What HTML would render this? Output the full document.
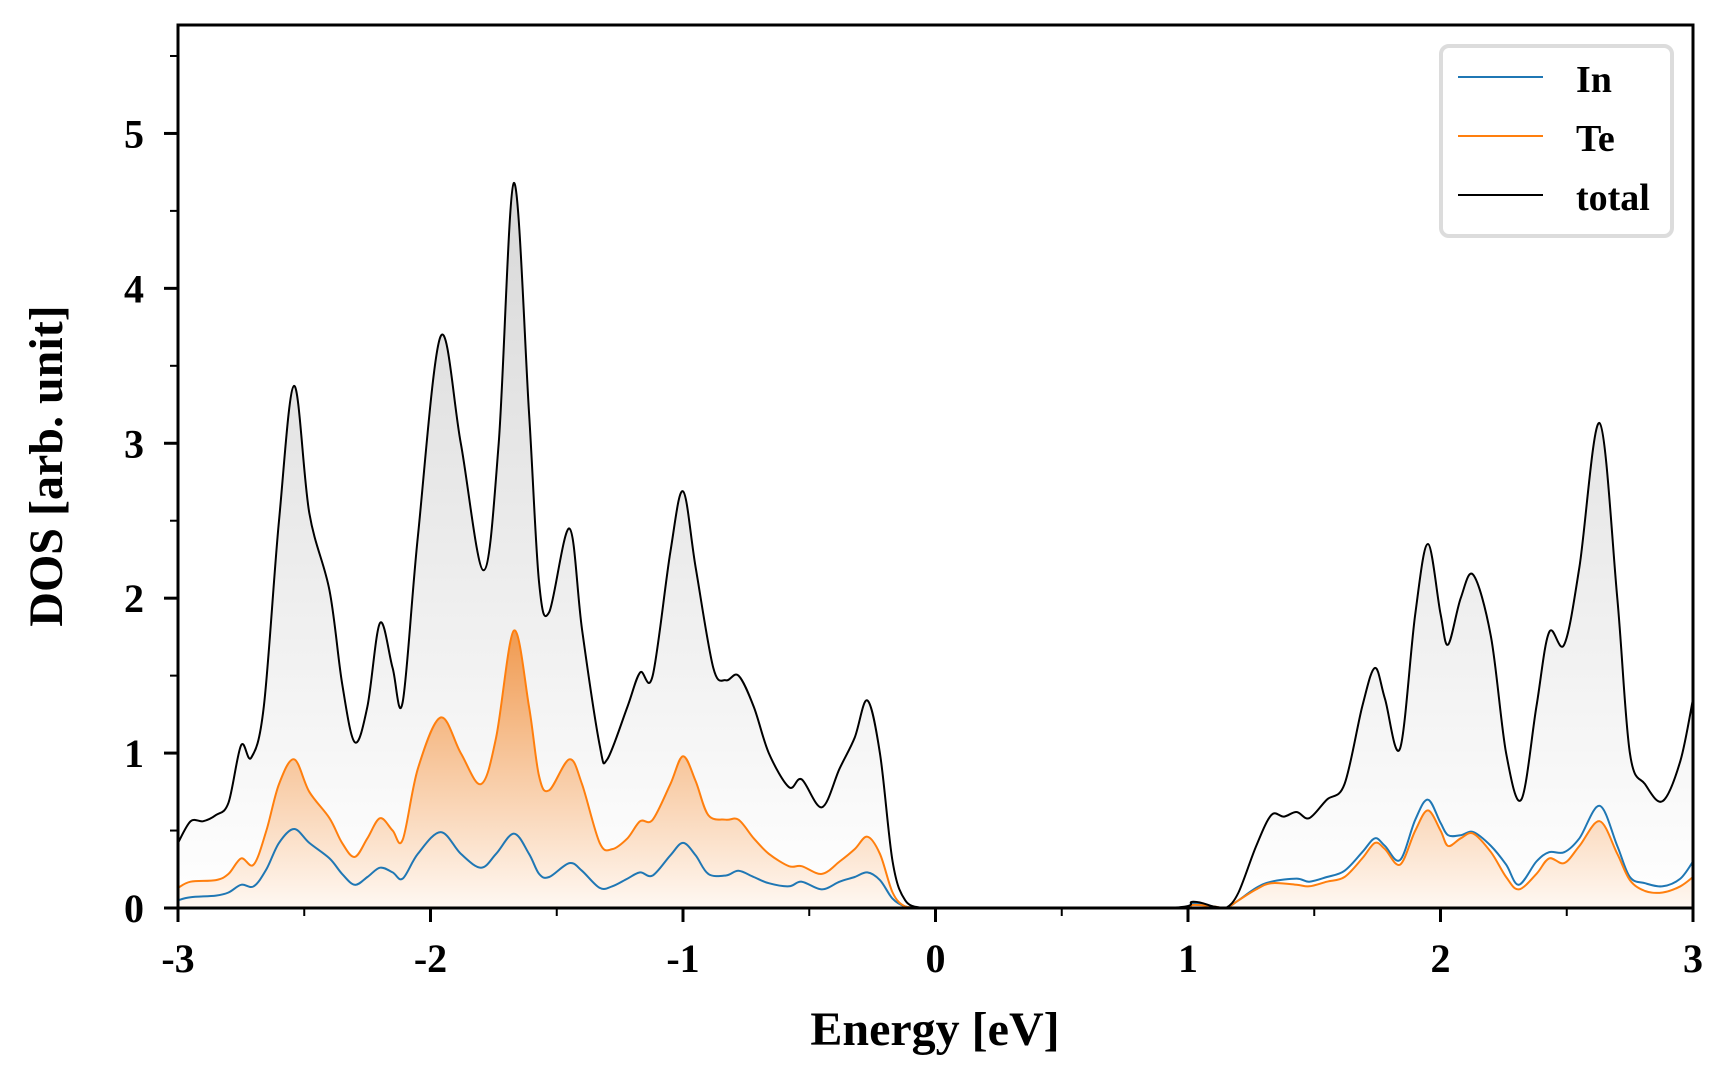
<!DOCTYPE html>
<html><head><meta charset="utf-8"><style>
html,body{margin:0;padding:0;background:#fff}
svg{display:block}
text{font-family:"Liberation Serif",serif;font-weight:bold;fill:#000}
</style></head><body>
<svg id="chart" width="1728" height="1080" viewBox="0 0 1728 1080" xmlns="http://www.w3.org/2000/svg">
<defs>
<linearGradient id="gGray" gradientUnits="userSpaceOnUse" x1="0" y1="180" x2="0" y2="908">
<stop offset="0" stop-color="#d8d8d8"/><stop offset="1" stop-color="#ffffff"/></linearGradient>
<linearGradient id="gOrange" gradientUnits="userSpaceOnUse" x1="0" y1="630" x2="0" y2="908">
<stop offset="0" stop-color="#f09a50"/><stop offset="1" stop-color="#fff8f2"/></linearGradient>
<clipPath id="clip"><rect x="178" y="25" width="1515" height="883"/></clipPath>
</defs>
<g id="plot" clip-path="url(#clip)"></g>
<g id="axes"></g>
<g id="legend">
<rect x="1441" y="46" width="231" height="190" rx="8" fill="#fff" stroke="#dcdcdc" stroke-width="4"/>
<line x1="1458" y1="77" x2="1543" y2="77" stroke="#1f77b4" stroke-width="2"/>
<text x="1576" y="92" font-size="38">In</text>
<line x1="1458" y1="136" x2="1543" y2="136" stroke="#ff7f0e" stroke-width="2"/>
<text x="1576" y="151" font-size="38">Te</text>
<line x1="1458" y1="195" x2="1543" y2="195" stroke="#000" stroke-width="2"/>
<text x="1576" y="210" font-size="38">total</text>
</g>
<text x="935" y="1045" font-size="48" text-anchor="middle">Energy [eV]</text>
<text transform="translate(62,466) rotate(-90)" font-size="48" text-anchor="middle">DOS [arb. unit]</text>
</svg>
<script>
const totalE = [-3.00,-2.95,-2.90,-2.85,-2.80,-2.75,-2.71,-2.66,-2.60,-2.54,-2.48,-2.40,-2.35,-2.30,-2.25,-2.20,-2.15,-2.11,-2.05,-1.96,-1.88,-1.79,-1.73,-1.67,-1.61,-1.57,-1.53,-1.45,-1.40,-1.33,-1.30,-1.22,-1.17,-1.12,-1.05,-1.00,-0.95,-0.88,-0.83,-0.78,-0.72,-0.66,-0.58,-0.53,-0.45,-0.38,-0.32,-0.27,-0.22,-0.17,-0.12,-0.05,0.00,0.90,1.02,1.10,1.15,1.20,1.27,1.33,1.38,1.43,1.48,1.55,1.62,1.69,1.74,1.78,1.84,1.90,1.95,2.00,2.03,2.08,2.13,2.20,2.26,2.32,2.38,2.43,2.49,2.55,2.63,2.70,2.75,2.81,2.88,2.95,3.00];
const totalDOS = [0.42,0.56,0.56,0.60,0.68,1.05,0.97,1.30,2.50,3.37,2.55,2.05,1.45,1.07,1.30,1.84,1.55,1.33,2.40,3.69,3.00,2.18,3.00,4.68,3.20,2.10,1.91,2.45,1.80,1.05,0.96,1.30,1.52,1.50,2.30,2.69,2.20,1.55,1.47,1.50,1.30,1.00,0.78,0.83,0.65,0.90,1.10,1.34,1.00,0.30,0.05,0.00,0.00,0.00,0.04,0.01,0.00,0.10,0.40,0.60,0.59,0.62,0.58,0.70,0.80,1.30,1.55,1.35,1.03,1.90,2.35,1.90,1.70,2.00,2.15,1.75,1.00,0.70,1.30,1.78,1.70,2.20,3.13,2.00,1.00,0.80,0.69,0.95,1.35];
const partE = [-3.00,-2.95,-2.85,-2.80,-2.75,-2.70,-2.65,-2.60,-2.54,-2.48,-2.40,-2.35,-2.30,-2.25,-2.20,-2.15,-2.11,-2.05,-1.96,-1.88,-1.80,-1.74,-1.67,-1.61,-1.57,-1.53,-1.45,-1.40,-1.33,-1.28,-1.22,-1.17,-1.12,-1.05,-1.00,-0.95,-0.90,-0.83,-0.78,-0.72,-0.66,-0.58,-0.53,-0.45,-0.38,-0.32,-0.27,-0.22,-0.17,-0.12,-0.05,0.00,0.90,1.02,1.10,1.15,1.20,1.27,1.33,1.43,1.48,1.55,1.62,1.69,1.74,1.78,1.84,1.90,1.95,2.00,2.03,2.08,2.13,2.20,2.26,2.31,2.38,2.43,2.49,2.55,2.63,2.70,2.75,2.81,2.88,2.95,3.00];
const teDOS = [0.13,0.17,0.18,0.22,0.32,0.28,0.50,0.80,0.96,0.75,0.58,0.42,0.33,0.45,0.58,0.50,0.44,0.90,1.23,1.00,0.80,1.10,1.79,1.30,0.85,0.76,0.96,0.80,0.42,0.38,0.45,0.56,0.57,0.80,0.98,0.82,0.60,0.57,0.57,0.45,0.35,0.27,0.27,0.22,0.30,0.38,0.46,0.35,0.10,0.01,0.00,0.00,0.00,0.02,0.01,0.00,0.05,0.12,0.16,0.15,0.14,0.17,0.20,0.32,0.42,0.38,0.28,0.50,0.63,0.50,0.40,0.45,0.48,0.36,0.20,0.12,0.22,0.32,0.29,0.40,0.56,0.35,0.18,0.11,0.10,0.14,0.20];
const inDOS = [0.05,0.07,0.08,0.10,0.15,0.14,0.25,0.42,0.51,0.42,0.32,0.22,0.15,0.20,0.26,0.23,0.19,0.35,0.49,0.35,0.26,0.35,0.48,0.35,0.22,0.20,0.29,0.24,0.13,0.14,0.19,0.23,0.21,0.34,0.42,0.34,0.22,0.21,0.24,0.20,0.16,0.14,0.17,0.12,0.17,0.20,0.23,0.18,0.06,0.01,0.00,0.00,0.00,0.03,0.01,0.00,0.05,0.13,0.17,0.19,0.17,0.20,0.24,0.36,0.45,0.40,0.31,0.57,0.70,0.55,0.47,0.47,0.49,0.40,0.28,0.15,0.30,0.36,0.36,0.45,0.66,0.40,0.20,0.16,0.14,0.19,0.30];
const xTicks = [-3,-2,-1,0,1,2,3];
const xTickLabels = ["-3","-2","-1","0","1","2","3"];
const yTicks = [0,1,2,3,4,5];
const yTickLabels = ["0","1","2","3","4","5"];

const X0=178,X1=1693,Y0=908,Y1=25,xmin=-3,xmax=3,ymin=0,ymax=5.7;
const sx=v=>X0+(v-xmin)/(xmax-xmin)*(X1-X0);
const sy=v=>Y0-(v-ymin)/(ymax-ymin)*(Y0-Y1);
const NS='http://www.w3.org/2000/svg';
function mk(tag,attrs,parent){const e=document.createElementNS(NS,tag);for(const k in attrs)e.setAttribute(k,attrs[k]);parent.appendChild(e);return e;}
function smooth(E,V){
  const p=E.map((e,i)=>[sx(e),sy(V[i])]);
  let d='M'+p[0][0].toFixed(1)+','+p[0][1].toFixed(1);
  for(let i=0;i<p.length-1;i++){
    const a=p[Math.max(0,i-1)],b=p[i],c=p[i+1],n=p[Math.min(p.length-1,i+2)];
    let c1y=b[1]+(c[1]-a[1])/6,c2y=c[1]-(n[1]-b[1])/6;
    c1y=Math.min(c1y,Y0);c2y=Math.min(c2y,Y0);
    const c1x=b[0]+(c[0]-a[0])/6,c2x=c[0]-(n[0]-b[0])/6;
    d+=' C'+c1x.toFixed(1)+','+c1y.toFixed(1)+' '+c2x.toFixed(1)+','+c2y.toFixed(1)+' '+c[0].toFixed(1)+','+c[1].toFixed(1);
  }
  return d;
}
function closeArea(d,E){return d+' L'+sx(E[E.length-1]).toFixed(1)+','+Y0+' L'+sx(E[0]).toFixed(1)+','+Y0+' Z';}
const plot=document.getElementById('plot');
const tPath=smooth(totalE,totalDOS),tePath=smooth(partE,teDOS),inPath=smooth(partE,inDOS);
let el;
el=mk('path',{d:closeArea(tPath,totalE),fill:'url(#gGray)',stroke:'none'},plot);


el=mk('path',{d:closeArea(tePath,partE),fill:'url(#gOrange)',stroke:'none'},plot);


el=mk('path',{d:inPath,fill:'none',stroke:'#1f77b4','stroke-width':2},plot);


el=mk('path',{d:tePath,fill:'none',stroke:'#ff7f0e','stroke-width':2},plot);


el=mk('path',{d:tPath,fill:'none',stroke:'#000','stroke-width':2},plot);



const axes=document.getElementById('axes');
el=mk('rect',{x:X0,y:Y1,width:X1-X0,height:Y0-Y1,fill:'none',stroke:'#000','stroke-width':3},axes);


xTicks.forEach((t,i)=>{
  const x=sx(t);
  const l=mk('line',{x1:x,y1:Y0,x2:x,y2:Y0+14,stroke:'#000','stroke-width':3},axes);
  
  
  const tx=mk('text',{x:x,y:972,'font-size':40,'text-anchor':'middle'},axes);
  tx.textContent=xTickLabels[i];
  
  
  if(i<xTicks.length-1){
    const mx=sx(t+0.5);
    const m=mk('line',{x1:mx,y1:Y0,x2:mx,y2:Y0+8,stroke:'#000','stroke-width':2},axes);
    
    
  }
});
yTicks.forEach((t,i)=>{
  const y=sy(t);
  const l=mk('line',{x1:X0-14,y1:y,x2:X0,y2:y,stroke:'#000','stroke-width':3},axes);
  
  
  const tx=mk('text',{x:144,y:y+14,'font-size':40,'text-anchor':'end'},axes);
  tx.textContent=yTickLabels[i];
  
  
  const my=sy(t+0.5);
  const m=mk('line',{x1:X0-8,y1:my,x2:X0,y2:my,stroke:'#000','stroke-width':2},axes);
  
  
});
</script>
</body></html>
